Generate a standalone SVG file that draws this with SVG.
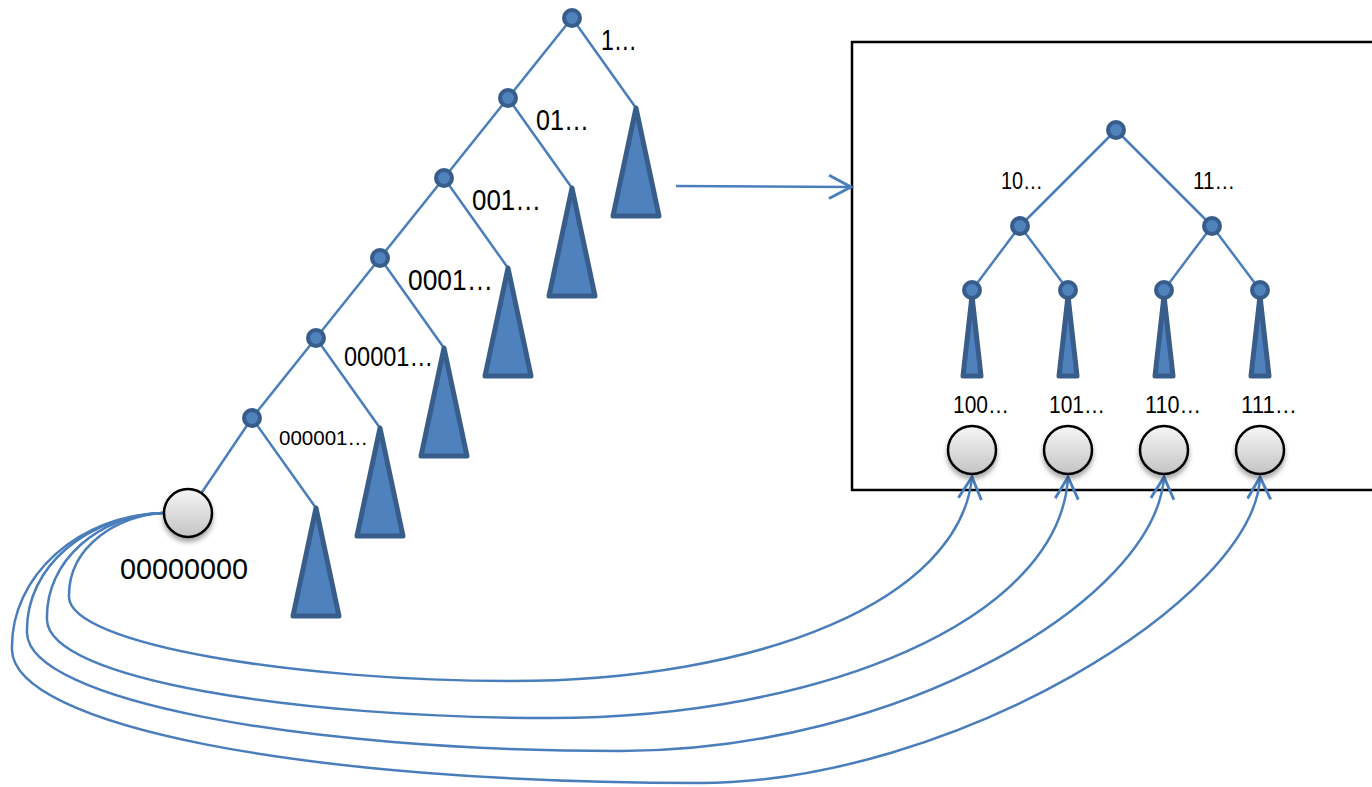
<svg xmlns="http://www.w3.org/2000/svg" width="1372" height="787" viewBox="0 0 1372 787">
  <style>
    .edge { stroke: #4a7ebb; stroke-width: 2.5; fill: none; }
    .dot { fill: #4f81bd; stroke: #385d8a; stroke-width: 4; }
    .tri { fill: #4f81bd; stroke: #385d8a; stroke-width: 5; stroke-linejoin: round; }
    .leaf { fill: url(#leafFill); stroke: #000; stroke-width: 2.5; filter: url(#shadow); }
    .lbl { font-family: "Liberation Sans", Arial, sans-serif; fill: #000; }
    .link { stroke: #4a7ebb; stroke-width: 2.5; fill: none; marker-end: url(#openArrow); }
  </style>
  <defs>
    <linearGradient id="leafFill" x1="0" y1="0" x2="0" y2="1">
      <stop offset="0" stop-color="#f6f6f6"/>
      <stop offset="1" stop-color="#c4c4c4"/>
    </linearGradient>
    <filter id="shadow" x="-40%" y="-40%" width="180%" height="190%">
      <feGaussianBlur in="SourceAlpha" stdDeviation="2.5"/>
      <feOffset dx="0" dy="4" result="b"/>
      <feComponentTransfer><feFuncA type="linear" slope="0.35"/></feComponentTransfer>
      <feMerge><feMergeNode/><feMergeNode in="SourceGraphic"/></feMerge>
    </filter>
    <marker id="openArrow" markerUnits="userSpaceOnUse" markerWidth="30" markerHeight="30" viewBox="-22 -13 26 26" refX="0" refY="0" orient="auto">
      <path d="M-19,-10 L0,0 L-19,10" fill="none" stroke="#4a7ebb" stroke-width="2.5"/>
    </marker>
  </defs>

  <!-- frame around the expanded subtree -->
  <rect id="frame" x="852" y="42" width="540" height="448" fill="none" stroke="#000" stroke-width="2.5"/>

  <!-- connectors -->
  <g id="connectors">
    <!-- left chain -->
    <line class="edge" x1="572" y1="18" x2="508" y2="98"/>
    <line class="edge" x1="508" y1="98" x2="444" y2="178"/>
    <line class="edge" x1="444" y1="178" x2="380" y2="258"/>
    <line class="edge" x1="380" y1="258" x2="316" y2="338"/>
    <line class="edge" x1="316" y1="338" x2="252" y2="418"/>
    <line class="edge" x1="252" y1="418" x2="188" y2="513"/>
    <line class="edge" x1="572" y1="18" x2="636" y2="108"/>
    <line class="edge" x1="508" y1="98" x2="572" y2="188"/>
    <line class="edge" x1="444" y1="178" x2="508" y2="268"/>
    <line class="edge" x1="380" y1="258" x2="444" y2="348"/>
    <line class="edge" x1="316" y1="338" x2="380" y2="428"/>
    <line class="edge" x1="252" y1="418" x2="316" y2="508"/>
    <!-- inner tree -->
    <line class="edge" x1="1116" y1="130" x2="1020" y2="226"/>
    <line class="edge" x1="1116" y1="130" x2="1212" y2="226"/>
    <line class="edge" x1="1020" y1="226" x2="972" y2="290"/>
    <line class="edge" x1="1020" y1="226" x2="1068" y2="290"/>
    <line class="edge" x1="1212" y1="226" x2="1164" y2="290"/>
    <line class="edge" x1="1212" y1="226" x2="1260" y2="290"/>
    <!-- expansion arrow -->
    <line class="link" x1="676" y1="186" x2="851" y2="187"/>
    <!-- links from the all-zero leaf to the bucket leaves -->
    <path class="link" d="M163,513 C120,515 68,545 69,597 C70,645 300,681 510,681 C760,681 960,600 972,477"/>
    <path class="link" d="M163,513 C100,515 45,560 47,620 C49,680 300,718 550,718 C820,718 1060,620 1068,477"/>
    <path class="link" d="M163,513 C90,515 25,565 27,633 C29,700 300,751 620,751 C900,751 1155,600 1164,477"/>
    <path class="link" d="M163,513 C80,515 10,575 12,650 C14,725 300,783 700,783 C950,783 1255,600 1260,477"/>
  </g>

  <!-- subtrees hanging off the chain -->
  <g id="subtree-1"><path class="tri" d="M636,108 L659,216 L613,216 Z"/></g>
  <g id="subtree-01"><path class="tri" d="M572,188 L595,296 L549,296 Z"/></g>
  <g id="subtree-001"><path class="tri" d="M508,268 L531,376 L485,376 Z"/></g>
  <g id="subtree-0001"><path class="tri" d="M444,348 L467,456 L421,456 Z"/></g>
  <g id="subtree-00001"><path class="tri" d="M380,428 L403,536 L357,536 Z"/></g>
  <g id="subtree-000001"><path class="tri" d="M316,508 L339,616 L293,616 Z"/></g>

  <!-- chain nodes -->
  <g id="node-root"><circle class="dot" cx="572" cy="18" r="8"/></g>
  <g id="node-0"><circle class="dot" cx="508" cy="98" r="8"/></g>
  <g id="node-00"><circle class="dot" cx="444" cy="178" r="8"/></g>
  <g id="node-000"><circle class="dot" cx="380" cy="258" r="8"/></g>
  <g id="node-0000"><circle class="dot" cx="316" cy="338" r="8"/></g>
  <g id="node-00000"><circle class="dot" cx="252" cy="418" r="8"/></g>
  <g id="leaf-zero"><circle class="leaf" cx="188" cy="513" r="24"/></g>

  <!-- chain labels -->
  <g id="labels-chain">
    <text class="lbl" x="601" y="50" font-size="30" textLength="36" lengthAdjust="spacingAndGlyphs">1…</text>
    <text class="lbl" x="536" y="130" font-size="30" textLength="53" lengthAdjust="spacingAndGlyphs">01…</text>
    <text class="lbl" x="472" y="210" font-size="30" textLength="69" lengthAdjust="spacingAndGlyphs">001…</text>
    <text class="lbl" x="408" y="290" font-size="30" textLength="85" lengthAdjust="spacingAndGlyphs">0001…</text>
    <text class="lbl" x="344" y="366" font-size="27" textLength="89" lengthAdjust="spacingAndGlyphs">00001…</text>
    <text class="lbl" x="279" y="445" font-size="21" textLength="89" lengthAdjust="spacingAndGlyphs">000001…</text>
    <text class="lbl" x="120" y="579" font-size="30" textLength="128" lengthAdjust="spacingAndGlyphs">00000000</text>
  </g>

  <!-- expanded subtree of prefix 1 -->
  <g id="inner-root"><circle class="dot" cx="1116" cy="130" r="8"/></g>
  <g id="inner-10"><circle class="dot" cx="1020" cy="226" r="8"/></g>
  <g id="inner-11"><circle class="dot" cx="1212" cy="226" r="8"/></g>
  <g id="inner-100">
    <path class="tri" d="M972,296 L981,376 L963,376 Z" stroke-width="4.5"/>
    <circle class="dot" cx="972" cy="290" r="8"/>
  </g>
  <g id="inner-101">
    <path class="tri" d="M1068,296 L1077,376 L1059,376 Z" stroke-width="4.5"/>
    <circle class="dot" cx="1068" cy="290" r="8"/>
  </g>
  <g id="inner-110">
    <path class="tri" d="M1164,296 L1173,376 L1155,376 Z" stroke-width="4.5"/>
    <circle class="dot" cx="1164" cy="290" r="8"/>
  </g>
  <g id="inner-111">
    <path class="tri" d="M1260,296 L1269,376 L1251,376 Z" stroke-width="4.5"/>
    <circle class="dot" cx="1260" cy="290" r="8"/>
  </g>

  <g id="labels-inner">
    <text class="lbl" x="1001" y="189" font-size="23" textLength="42" lengthAdjust="spacingAndGlyphs">10…</text>
    <text class="lbl" x="1193" y="189" font-size="23" textLength="42" lengthAdjust="spacingAndGlyphs">11…</text>
    <text class="lbl" x="953" y="413" font-size="23" textLength="56" lengthAdjust="spacingAndGlyphs">100…</text>
    <text class="lbl" x="1049" y="413" font-size="23" textLength="56" lengthAdjust="spacingAndGlyphs">101…</text>
    <text class="lbl" x="1145" y="413" font-size="23" textLength="56" lengthAdjust="spacingAndGlyphs">110…</text>
    <text class="lbl" x="1241" y="413" font-size="23" textLength="56" lengthAdjust="spacingAndGlyphs">111…</text>
  </g>

  <!-- bucket leaves -->
  <g id="bucket-100"><circle class="leaf" cx="972" cy="450" r="24"/></g>
  <g id="bucket-101"><circle class="leaf" cx="1068" cy="450" r="24"/></g>
  <g id="bucket-110"><circle class="leaf" cx="1164" cy="450" r="24"/></g>
  <g id="bucket-111"><circle class="leaf" cx="1260" cy="450" r="24"/></g>
</svg>
